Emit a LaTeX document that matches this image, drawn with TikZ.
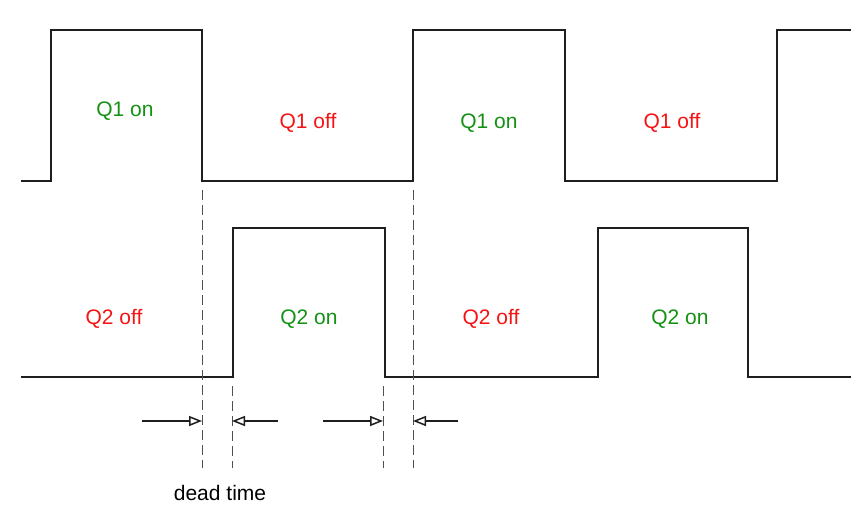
\documentclass[tikz,border=0pt]{standalone}
\usepackage{fontspec}
\setmainfont{Liberation Sans}
\usetikzlibrary{arrows.meta}
\definecolor{ongreen}{RGB}{20,145,20}
\definecolor{offred}{RGB}{245,20,20}
\definecolor{wave}{RGB}{30,30,30}
\definecolor{dash}{RGB}{80,80,80}
\begin{document}
\begin{tikzpicture}[x=1pt,y=-1pt,
  wave/.style={draw=wave,line width=2pt,line join=miter},
  guide/.style={draw=dash,line width=1pt,dash pattern=on 10pt off 5pt},
  dimarrow/.style={draw=wave,line width=1.3pt,-{Triangle[open,length=13pt,width=10pt,line width=1.5pt]}},
  onlab/.style={text=ongreen,font=\fontsize{21}{24}\selectfont},
  offlab/.style={text=offred,font=\fontsize{21}{24}\selectfont},
  note/.style={text=black,font=\fontsize{21}{24}\selectfont}]
\useasboundingbox (0,0) rectangle (856,506);
% top waveform Q1
\draw[wave] (21,181) -- (51,181) -- (51,30) -- (202,30) -- (202,181) -- (413,181) -- (413,30) -- (565,30) -- (565,181) -- (777,181) -- (777,30) -- (851,30);
% bottom waveform Q2
\draw[wave] (21,377) -- (233,377) -- (233,228) -- (385,228) -- (385,377) -- (598,377) -- (598,228) -- (748,228) -- (748,377) -- (851,377);
% guides
\coordinate (g1t) at (202,190); \coordinate (g1b) at (202,468);
\coordinate (g2t) at (232,386); \coordinate (g2b) at (232,468);
\coordinate (g3t) at (383,386); \coordinate (g3b) at (383,468);
\coordinate (g4t) at (413,190); \coordinate (g4b) at (413,468);
\draw[guide] (g1t) -- (g1b);
\draw[guide] (g2t) -- (g2b);
\draw[guide] (g3t) -- (g3b);
\draw[guide] (g4t) -- (g4b);
% arrows
\coordinate (a1s) at (142,421); \coordinate (a1e) at (202,421);
\coordinate (a2s) at (278,421); \coordinate (a2e) at (232,421);
\coordinate (a3s) at (323,421); \coordinate (a3e) at (383,421);
\coordinate (a4s) at (458,421); \coordinate (a4e) at (413,421);
\draw[dimarrow] (a1s) -- (a1e);
\draw[dimarrow] (a2s) -- (a2e);
\draw[dimarrow] (a3s) -- (a3e);
\draw[dimarrow] (a4s) -- (a4e);
% labels
\node[onlab] (l1) at (125,111) {Q1 on};
\node[offlab] (l2) at (308,123) {Q1 off};
\node[onlab] (l3) at (489,123) {Q1 on};
\node[offlab] (l4) at (672,123) {Q1 off};
\node[offlab] (l5) at (114,319) {Q2 off};
\node[onlab] (l6) at (309,319) {Q2 on};
\node[offlab] (l7) at (491,319) {Q2 off};
\node[onlab] (l8) at (680,319) {Q2 on};
\node[note] (dt) at (220,493) {dead time};
\end{tikzpicture}
\end{document}
